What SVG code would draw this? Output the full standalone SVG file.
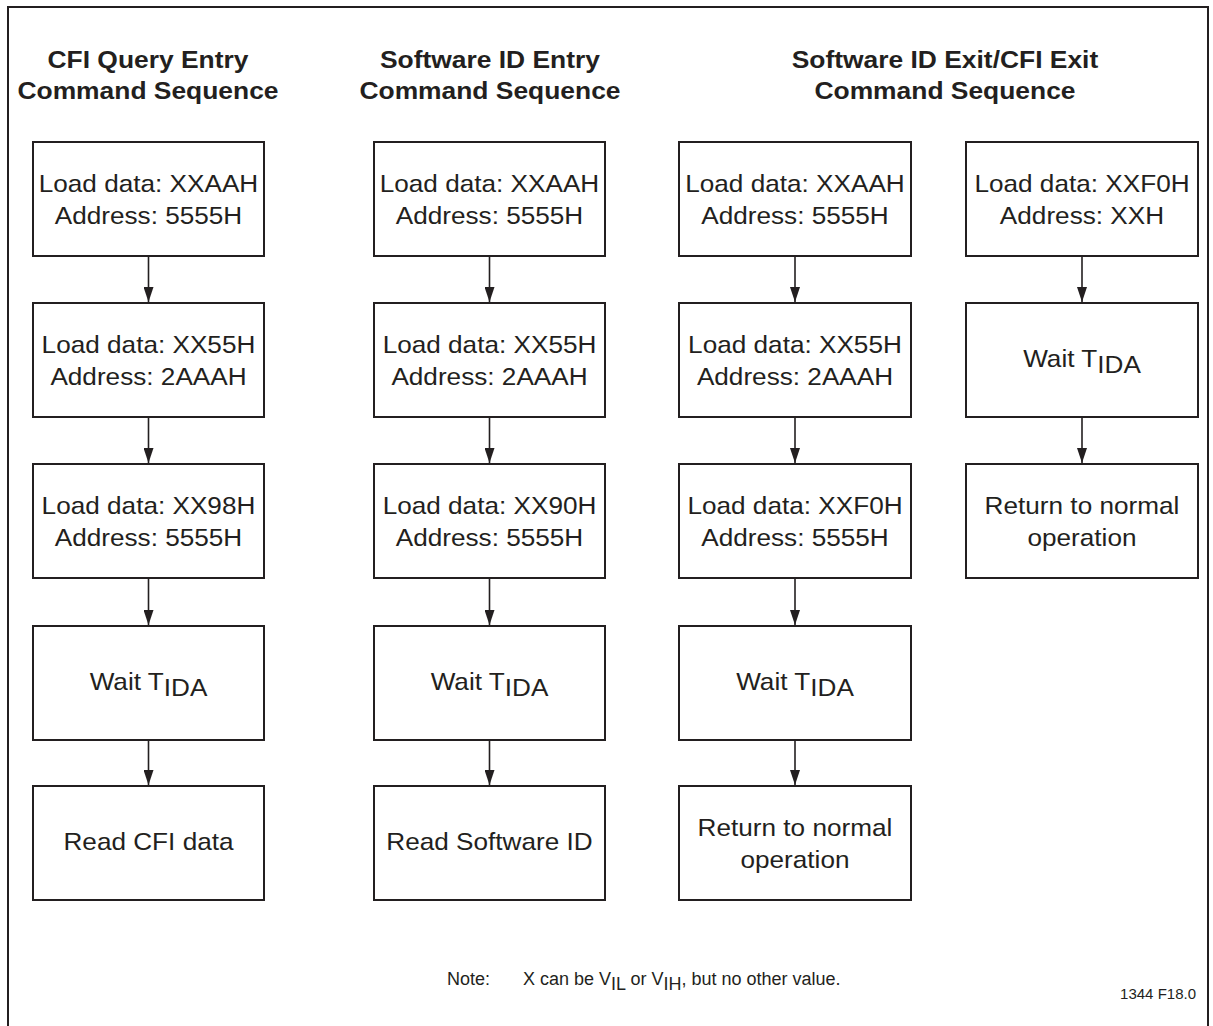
<svg xmlns="http://www.w3.org/2000/svg" width="1213" height="1026" viewBox="0 0 1213 1026">
<style>
.box{fill:#fff;stroke:#231f20;stroke-width:2}
.t{font-family:"Liberation Sans",Arial,sans-serif;font-size:24px;fill:#231f20;text-anchor:middle}
.h{font-family:"Liberation Sans",Arial,sans-serif;font-size:24px;font-weight:bold;fill:#231f20;text-anchor:middle}
.n{font-family:"Liberation Sans",Arial,sans-serif;font-size:18px;fill:#231f20}
.c{stroke:#231f20;stroke-width:1.6;fill:none;marker-end:url(#ah)}
</style>
<defs>
<marker id="ah" markerUnits="userSpaceOnUse" markerWidth="15" markerHeight="10" viewBox="0 0 15 10" refX="15" refY="5" orient="auto">
<path d="M0,0 L15,5 L0,10 Z" fill="#231f20"/>
</marker>
</defs>
<rect width="1213" height="1026" fill="#fff"/>
<path d="M8,1030 V7 H1208 V1030" fill="none" stroke="#231f20" stroke-width="2"/>

<g id="titles">
<g transform="matrix(1.1 0 0 1 -14.8 0)"><text class="h" x="148" y="68">CFI Query Entry</text><text class="h" x="148" y="99">Command Sequence</text></g>
<g transform="matrix(1.1 0 0 1 -49 0)"><text class="h" x="490" y="68">Software ID Entry</text><text class="h" x="490" y="99">Command Sequence</text></g>
<g transform="matrix(1.1 0 0 1 -94.5 0)"><text class="h" x="945" y="68">Software ID Exit/CFI Exit</text><text class="h" x="945" y="99">Command Sequence</text></g>
</g>

<g id="connectors">
<line class="c" x1="148.5" y1="257" x2="148.5" y2="302"/>
<line class="c" x1="148.5" y1="418" x2="148.5" y2="463"/>
<line class="c" x1="148.5" y1="579" x2="148.5" y2="625"/>
<line class="c" x1="148.5" y1="741" x2="148.5" y2="785"/>
<line class="c" x1="489.5" y1="257" x2="489.5" y2="302"/>
<line class="c" x1="489.5" y1="418" x2="489.5" y2="463"/>
<line class="c" x1="489.5" y1="579" x2="489.5" y2="625"/>
<line class="c" x1="489.5" y1="741" x2="489.5" y2="785"/>
<line class="c" x1="795" y1="257" x2="795" y2="302"/>
<line class="c" x1="795" y1="418" x2="795" y2="463"/>
<line class="c" x1="795" y1="579" x2="795" y2="625"/>
<line class="c" x1="795" y1="741" x2="795" y2="785"/>
<line class="c" x1="1082" y1="257" x2="1082" y2="302"/>
<line class="c" x1="1082" y1="418" x2="1082" y2="463"/>
</g>

<g id="c1r1"><rect class="box" x="33" y="142" width="231" height="114"/><g transform="matrix(1.09 0 0 1 -13.365 0)"><text class="t" x="148.5" y="192">Load data: XXAAH</text><text class="t" x="148.5" y="224">Address: 5555H</text></g></g>
<g id="c1r2"><rect class="box" x="33" y="303" width="231" height="114"/><g transform="matrix(1.09 0 0 1 -13.365 0)"><text class="t" x="148.5" y="353">Load data: XX55H</text><text class="t" x="148.5" y="385">Address: 2AAAH</text></g></g>
<g id="c1r3"><rect class="box" x="33" y="464" width="231" height="114"/><g transform="matrix(1.09 0 0 1 -13.365 0)"><text class="t" x="148.5" y="514">Load data: XX98H</text><text class="t" x="148.5" y="546">Address: 5555H</text></g></g>
<g id="c1r4"><rect class="box" x="33" y="626" width="231" height="114"/><g transform="matrix(1.09 0 0 1 -13.365 0)"><text class="t" x="148.5" y="690">Wait T<tspan dy="6">IDA</tspan></text></g></g>
<g id="c1r5"><rect class="box" x="33" y="786" width="231" height="114"/><g transform="matrix(1.09 0 0 1 -13.365 0)"><text class="t" x="148.5" y="850">Read CFI data</text></g></g>

<g id="c2r1"><rect class="box" x="374" y="142" width="231" height="114"/><g transform="matrix(1.09 0 0 1 -44.055 0)"><text class="t" x="489.5" y="192">Load data: XXAAH</text><text class="t" x="489.5" y="224">Address: 5555H</text></g></g>
<g id="c2r2"><rect class="box" x="374" y="303" width="231" height="114"/><g transform="matrix(1.09 0 0 1 -44.055 0)"><text class="t" x="489.5" y="353">Load data: XX55H</text><text class="t" x="489.5" y="385">Address: 2AAAH</text></g></g>
<g id="c2r3"><rect class="box" x="374" y="464" width="231" height="114"/><g transform="matrix(1.09 0 0 1 -44.055 0)"><text class="t" x="489.5" y="514">Load data: XX90H</text><text class="t" x="489.5" y="546">Address: 5555H</text></g></g>
<g id="c2r4"><rect class="box" x="374" y="626" width="231" height="114"/><g transform="matrix(1.09 0 0 1 -44.055 0)"><text class="t" x="489.5" y="690">Wait T<tspan dy="6">IDA</tspan></text></g></g>
<g id="c2r5"><rect class="box" x="374" y="786" width="231" height="114"/><g transform="matrix(1.09 0 0 1 -44.055 0)"><text class="t" x="489.5" y="850">Read Software ID</text></g></g>

<g id="c3r1"><rect class="box" x="679" y="142" width="232" height="114"/><g transform="matrix(1.09 0 0 1 -71.55 0)"><text class="t" x="795" y="192">Load data: XXAAH</text><text class="t" x="795" y="224">Address: 5555H</text></g></g>
<g id="c3r2"><rect class="box" x="679" y="303" width="232" height="114"/><g transform="matrix(1.09 0 0 1 -71.55 0)"><text class="t" x="795" y="353">Load data: XX55H</text><text class="t" x="795" y="385">Address: 2AAAH</text></g></g>
<g id="c3r3"><rect class="box" x="679" y="464" width="232" height="114"/><g transform="matrix(1.09 0 0 1 -71.55 0)"><text class="t" x="795" y="514">Load data: XXF0H</text><text class="t" x="795" y="546">Address: 5555H</text></g></g>
<g id="c3r4"><rect class="box" x="679" y="626" width="232" height="114"/><g transform="matrix(1.09 0 0 1 -71.55 0)"><text class="t" x="795" y="690">Wait T<tspan dy="6">IDA</tspan></text></g></g>
<g id="c3r5"><rect class="box" x="679" y="786" width="232" height="114"/><g transform="matrix(1.09 0 0 1 -71.55 0)"><text class="t" x="795" y="836">Return to normal</text><text class="t" x="795" y="868">operation</text></g></g>

<g id="c4r1"><rect class="box" x="966" y="142" width="232" height="114"/><g transform="matrix(1.09 0 0 1 -97.38 0)"><text class="t" x="1082" y="192">Load data: XXF0H</text><text class="t" x="1082" y="224">Address: XXH</text></g></g>
<g id="c4r2"><rect class="box" x="966" y="303" width="232" height="114"/><g transform="matrix(1.09 0 0 1 -97.38 0)"><text class="t" x="1082" y="367">Wait T<tspan dy="6">IDA</tspan></text></g></g>
<g id="c4r3"><rect class="box" x="966" y="464" width="232" height="114"/><g transform="matrix(1.09 0 0 1 -97.38 0)"><text class="t" x="1082" y="514">Return to normal</text><text class="t" x="1082" y="546">operation</text></g></g>

<g id="note">
<text class="n" x="447" y="985">Note:</text>
<text class="n" x="523" y="985">X can be V<tspan dy="5">IL</tspan><tspan dy="-5"> or V</tspan><tspan dy="5">IH</tspan><tspan dy="-5">, but no other value.</tspan></text>
<text class="n" x="1196" y="999" style="font-size:15px;text-anchor:end">1344 F18.0</text>
</g>
</svg>
